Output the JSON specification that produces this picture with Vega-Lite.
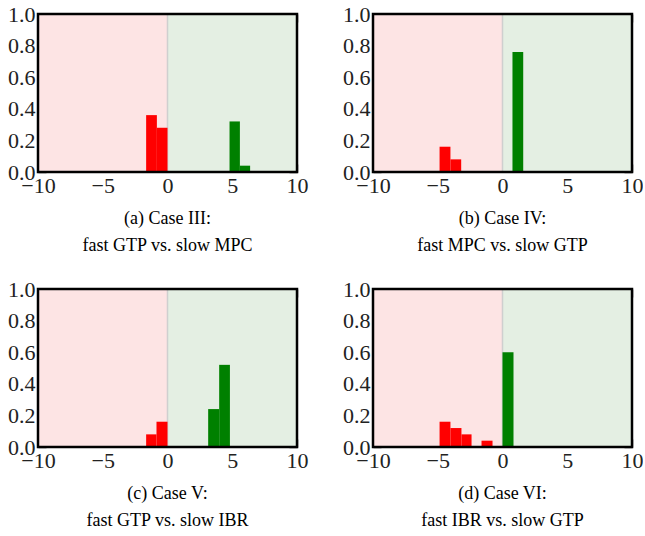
{
  "$schema": "https://vega.github.io/schema/vega-lite/v6.json",
  "padding": {"left": 7, "top": 3, "right": 0, "bottom": 0},
  "background": "white",
  "datasets": {
    "regions": [
      {"region": "neg", "x0": -10, "x1": 0},
      {"region": "pos", "x0": 0, "x1": 10}
    ],
    "bars": [
      {"panel": "a", "x0": -1.65, "x1": -0.82, "freq": 0.36, "side": "neg"},
      {"panel": "a", "x0": -0.82, "x1": 0.0, "freq": 0.28, "side": "neg"},
      {"panel": "a", "x0": 4.79, "x1": 5.59, "freq": 0.32, "side": "pos"},
      {"panel": "a", "x0": 5.59, "x1": 6.38, "freq": 0.04, "side": "pos"},
      {"panel": "b", "x0": -4.86, "x1": -4.02, "freq": 0.16, "side": "neg"},
      {"panel": "b", "x0": -4.02, "x1": -3.19, "freq": 0.08, "side": "neg"},
      {"panel": "b", "x0": 0.77, "x1": 1.6, "freq": 0.76, "side": "pos"},
      {"panel": "c", "x0": -1.65, "x1": -0.85, "freq": 0.08, "side": "neg"},
      {"panel": "c", "x0": -0.85, "x1": 0.0, "freq": 0.16, "side": "neg"},
      {"panel": "c", "x0": 3.14, "x1": 3.99, "freq": 0.24, "side": "pos"},
      {"panel": "c", "x0": 3.99, "x1": 4.82, "freq": 0.52, "side": "pos"},
      {"panel": "d", "x0": -4.86, "x1": -4.02, "freq": 0.16, "side": "neg"},
      {"panel": "d", "x0": -4.02, "x1": -3.17, "freq": 0.12, "side": "neg"},
      {"panel": "d", "x0": -3.17, "x1": -2.39, "freq": 0.08, "side": "neg"},
      {"panel": "d", "x0": -1.62, "x1": -0.77, "freq": 0.04, "side": "neg"},
      {"panel": "d", "x0": 0.0, "x1": 0.85, "freq": 0.6, "side": "pos"}
    ]
  },
  "columns": 2,
  "spacing": {"column": 34, "row": 23},
  "concat": [
    {
      "width": 259, "height": 158,
      "title": {"text": ["(a) Case III:", "fast GTP vs. slow MPC"]},
      "layer": [
        {
          "data": {"name": "regions"},
          "mark": {"type": "rect"},
          "encoding": {
            "x": {"field": "x0", "type": "quantitative", "scale": {"domain": [-10, 10]}, "axis": {"orient": "bottom", "values": [-10, -5, 0, 5, 10]}},
            "x2": {"field": "x1"},
            "y": {"datum": 0, "type": "quantitative", "scale": {"domain": [0, 1]}, "axis": {"orient": "left", "values": [0, 0.2, 0.4, 0.6, 0.8, 1.0], "format": ".1f"}},
            "y2": {"datum": 1},
            "fill": {"field": "region", "type": "nominal", "scale": {"domain": ["neg", "pos"], "range": ["#fde4e4", "#e4efe3"]}, "legend": null}
          }
        },
        {
          "data": {"name": "regions"},
          "transform": [{"filter": "datum.region === 'pos'"}],
          "mark": {"type": "rule", "color": "#cfcfcf", "strokeWidth": 1.5},
          "encoding": {
            "x": {"field": "x0", "type": "quantitative", "scale": {"domain": [-10, 10]}, "axis": {"orient": "top", "values": [-10, -5, 0, 5, 10], "labels": false}}
          }
        },
        {
          "data": {"name": "bars"},
          "transform": [{"filter": "datum.panel === 'a'"}],
          "mark": {"type": "rect"},
          "encoding": {
            "x": {"field": "x0", "type": "quantitative", "scale": {"domain": [-10, 10]}, "axis": null},
            "x2": {"field": "x1"},
            "y": {"field": "freq", "type": "quantitative", "scale": {"domain": [0, 1]}, "axis": {"orient": "right", "values": [0, 0.2, 0.4, 0.6, 0.8, 1.0], "labels": false}},
            "y2": {"datum": 0},
            "color": {"field": "side", "type": "nominal", "scale": {"domain": ["neg", "pos"], "range": ["#ff0000", "#008000"]}, "legend": null}
          }
        },
        {
          "data": {"name": "regions"},
          "transform": [{"aggregate": [{"op": "min", "field": "x0", "as": "lo"}, {"op": "max", "field": "x1", "as": "hi"}]}],
          "mark": {"type": "rect", "fill": null, "fillOpacity": 0, "stroke": "black", "strokeWidth": 2.5},
          "encoding": {
            "x": {"field": "lo", "type": "quantitative", "scale": {"domain": [-10, 10]}, "axis": null},
            "x2": {"field": "hi"},
            "y": {"datum": 0, "type": "quantitative", "scale": {"domain": [0, 1]}, "axis": null},
            "y2": {"datum": 1}
          }
        }
      ],
      "resolve": {"axis": {"x": "independent", "y": "independent"}}
    },
    {
      "width": 259, "height": 158,
      "title": {"text": ["(b) Case IV:", "fast MPC vs. slow GTP"]},
      "layer": [
        {
          "data": {"name": "regions"},
          "mark": {"type": "rect"},
          "encoding": {
            "x": {"field": "x0", "type": "quantitative", "scale": {"domain": [-10, 10]}, "axis": {"orient": "bottom", "values": [-10, -5, 0, 5, 10]}},
            "x2": {"field": "x1"},
            "y": {"datum": 0, "type": "quantitative", "scale": {"domain": [0, 1]}, "axis": {"orient": "left", "values": [0, 0.2, 0.4, 0.6, 0.8, 1.0], "format": ".1f"}},
            "y2": {"datum": 1},
            "fill": {"field": "region", "type": "nominal", "scale": {"domain": ["neg", "pos"], "range": ["#fde4e4", "#e4efe3"]}, "legend": null}
          }
        },
        {
          "data": {"name": "regions"},
          "transform": [{"filter": "datum.region === 'pos'"}],
          "mark": {"type": "rule", "color": "#cfcfcf", "strokeWidth": 1.5},
          "encoding": {
            "x": {"field": "x0", "type": "quantitative", "scale": {"domain": [-10, 10]}, "axis": {"orient": "top", "values": [-10, -5, 0, 5, 10], "labels": false}}
          }
        },
        {
          "data": {"name": "bars"},
          "transform": [{"filter": "datum.panel === 'b'"}],
          "mark": {"type": "rect"},
          "encoding": {
            "x": {"field": "x0", "type": "quantitative", "scale": {"domain": [-10, 10]}, "axis": null},
            "x2": {"field": "x1"},
            "y": {"field": "freq", "type": "quantitative", "scale": {"domain": [0, 1]}, "axis": {"orient": "right", "values": [0, 0.2, 0.4, 0.6, 0.8, 1.0], "labels": false}},
            "y2": {"datum": 0},
            "color": {"field": "side", "type": "nominal", "scale": {"domain": ["neg", "pos"], "range": ["#ff0000", "#008000"]}, "legend": null}
          }
        },
        {
          "data": {"name": "regions"},
          "transform": [{"aggregate": [{"op": "min", "field": "x0", "as": "lo"}, {"op": "max", "field": "x1", "as": "hi"}]}],
          "mark": {"type": "rect", "fill": null, "fillOpacity": 0, "stroke": "black", "strokeWidth": 2.5},
          "encoding": {
            "x": {"field": "lo", "type": "quantitative", "scale": {"domain": [-10, 10]}, "axis": null},
            "x2": {"field": "hi"},
            "y": {"datum": 0, "type": "quantitative", "scale": {"domain": [0, 1]}, "axis": null},
            "y2": {"datum": 1}
          }
        }
      ],
      "resolve": {"axis": {"x": "independent", "y": "independent"}}
    },
    {
      "width": 259, "height": 158,
      "title": {"text": ["(c) Case V:", "fast GTP vs. slow IBR"]},
      "layer": [
        {
          "data": {"name": "regions"},
          "mark": {"type": "rect"},
          "encoding": {
            "x": {"field": "x0", "type": "quantitative", "scale": {"domain": [-10, 10]}, "axis": {"orient": "bottom", "values": [-10, -5, 0, 5, 10]}},
            "x2": {"field": "x1"},
            "y": {"datum": 0, "type": "quantitative", "scale": {"domain": [0, 1]}, "axis": {"orient": "left", "values": [0, 0.2, 0.4, 0.6, 0.8, 1.0], "format": ".1f"}},
            "y2": {"datum": 1},
            "fill": {"field": "region", "type": "nominal", "scale": {"domain": ["neg", "pos"], "range": ["#fde4e4", "#e4efe3"]}, "legend": null}
          }
        },
        {
          "data": {"name": "regions"},
          "transform": [{"filter": "datum.region === 'pos'"}],
          "mark": {"type": "rule", "color": "#cfcfcf", "strokeWidth": 1.5},
          "encoding": {
            "x": {"field": "x0", "type": "quantitative", "scale": {"domain": [-10, 10]}, "axis": {"orient": "top", "values": [-10, -5, 0, 5, 10], "labels": false}}
          }
        },
        {
          "data": {"name": "bars"},
          "transform": [{"filter": "datum.panel === 'c'"}],
          "mark": {"type": "rect"},
          "encoding": {
            "x": {"field": "x0", "type": "quantitative", "scale": {"domain": [-10, 10]}, "axis": null},
            "x2": {"field": "x1"},
            "y": {"field": "freq", "type": "quantitative", "scale": {"domain": [0, 1]}, "axis": {"orient": "right", "values": [0, 0.2, 0.4, 0.6, 0.8, 1.0], "labels": false}},
            "y2": {"datum": 0},
            "color": {"field": "side", "type": "nominal", "scale": {"domain": ["neg", "pos"], "range": ["#ff0000", "#008000"]}, "legend": null}
          }
        },
        {
          "data": {"name": "regions"},
          "transform": [{"aggregate": [{"op": "min", "field": "x0", "as": "lo"}, {"op": "max", "field": "x1", "as": "hi"}]}],
          "mark": {"type": "rect", "fill": null, "fillOpacity": 0, "stroke": "black", "strokeWidth": 2.5},
          "encoding": {
            "x": {"field": "lo", "type": "quantitative", "scale": {"domain": [-10, 10]}, "axis": null},
            "x2": {"field": "hi"},
            "y": {"datum": 0, "type": "quantitative", "scale": {"domain": [0, 1]}, "axis": null},
            "y2": {"datum": 1}
          }
        }
      ],
      "resolve": {"axis": {"x": "independent", "y": "independent"}}
    },
    {
      "width": 259, "height": 158,
      "title": {"text": ["(d) Case VI:", "fast IBR vs. slow GTP"]},
      "layer": [
        {
          "data": {"name": "regions"},
          "mark": {"type": "rect"},
          "encoding": {
            "x": {"field": "x0", "type": "quantitative", "scale": {"domain": [-10, 10]}, "axis": {"orient": "bottom", "values": [-10, -5, 0, 5, 10]}},
            "x2": {"field": "x1"},
            "y": {"datum": 0, "type": "quantitative", "scale": {"domain": [0, 1]}, "axis": {"orient": "left", "values": [0, 0.2, 0.4, 0.6, 0.8, 1.0], "format": ".1f"}},
            "y2": {"datum": 1},
            "fill": {"field": "region", "type": "nominal", "scale": {"domain": ["neg", "pos"], "range": ["#fde4e4", "#e4efe3"]}, "legend": null}
          }
        },
        {
          "data": {"name": "regions"},
          "transform": [{"filter": "datum.region === 'pos'"}],
          "mark": {"type": "rule", "color": "#cfcfcf", "strokeWidth": 1.5},
          "encoding": {
            "x": {"field": "x0", "type": "quantitative", "scale": {"domain": [-10, 10]}, "axis": {"orient": "top", "values": [-10, -5, 0, 5, 10], "labels": false}}
          }
        },
        {
          "data": {"name": "bars"},
          "transform": [{"filter": "datum.panel === 'd'"}],
          "mark": {"type": "rect"},
          "encoding": {
            "x": {"field": "x0", "type": "quantitative", "scale": {"domain": [-10, 10]}, "axis": null},
            "x2": {"field": "x1"},
            "y": {"field": "freq", "type": "quantitative", "scale": {"domain": [0, 1]}, "axis": {"orient": "right", "values": [0, 0.2, 0.4, 0.6, 0.8, 1.0], "labels": false}},
            "y2": {"datum": 0},
            "color": {"field": "side", "type": "nominal", "scale": {"domain": ["neg", "pos"], "range": ["#ff0000", "#008000"]}, "legend": null}
          }
        },
        {
          "data": {"name": "regions"},
          "transform": [{"aggregate": [{"op": "min", "field": "x0", "as": "lo"}, {"op": "max", "field": "x1", "as": "hi"}]}],
          "mark": {"type": "rect", "fill": null, "fillOpacity": 0, "stroke": "black", "strokeWidth": 2.5},
          "encoding": {
            "x": {"field": "lo", "type": "quantitative", "scale": {"domain": [-10, 10]}, "axis": null},
            "x2": {"field": "hi"},
            "y": {"datum": 0, "type": "quantitative", "scale": {"domain": [0, 1]}, "axis": null},
            "y2": {"datum": 1}
          }
        }
      ],
      "resolve": {"axis": {"x": "independent", "y": "independent"}}
    }
  ],
  "config": {
    "view": {"stroke": null},
    "axis": {
      "title": null,
      "domain": false,
      "grid": false,
      "ticks": true,
      "tickSize": -8,
      "tickColor": "#555555",
      "tickWidth": 1.5,
      "labelFont": "Liberation Serif",
      "labelFontSize": 22,
      "labelColor": "#222222",
      "labelPadding": 11,
      "labelFlush": false,
      "labelOverlap": false
    },
    "title": {
      "orient": "bottom",
      "anchor": "middle",
      "font": "Liberation Serif",
      "fontSize": 18,
      "fontWeight": "normal",
      "color": "black",
      "lineHeight": 27,
      "offset": 14
    }
  }
}
